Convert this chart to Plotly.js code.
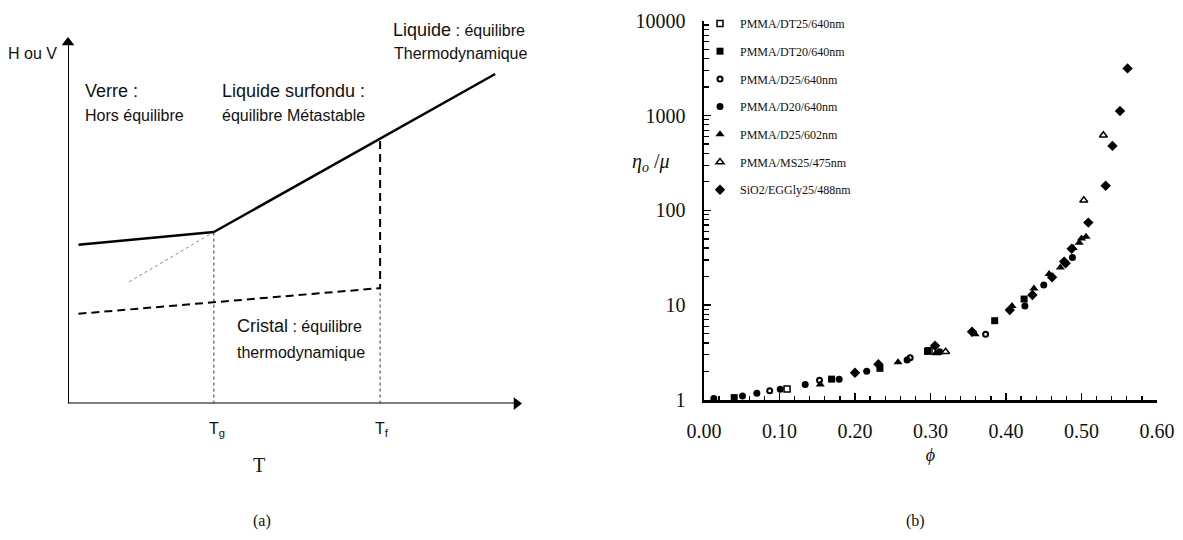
<!DOCTYPE html>
<html>
<head>
<meta charset="utf-8">
<script src="https://cdn.plot.ly/plotly-3.0.1.min.js"></script>
<style>
  html, body { margin: 0; padding: 0; background: #fff; }
  #chart { width: 1183px; height: 540px; }
</style>
</head>
<body>
<div id="chart"></div>
<script>
// ---------- Panel (a): schematic H or V vs T (arbitrary units) ----------
const axisXT = [0, 9.9];          // horizontal T axis
const axisXH = [0, 0];
const axisYT = [0, 0];            // vertical H/V axis
const axisYH = [0, 9.85];
const glassT = [0.23, 3.22];
const glassH = [4.33, 4.68];
const liquidT = [3.22, 9.43];
const liquidH = [4.68, 8.99];
const extrapT = [1.35, 3.22];
const extrapH = [3.32, 4.68];
const crystalT = [0.23, 6.89, 6.89];
const crystalH = [2.45, 3.15, 7.25];
const tgLineT = [3.22, 3.22];
const tgLineH = [0, 4.68];
const tfLineT = [6.89, 6.89];
const tfLineH = [0, 3.15];

// ---------- Panel (b): relative viscosity vs volume fraction ----------
const seriesNames = [
  "PMMA/DT25/640nm", "PMMA/DT20/640nm", "PMMA/D25/640nm", "PMMA/D20/640nm",
  "PMMA/D25/602nm", "PMMA/MS25/475nm", "SiO2/EGGly25/488nm"
];
const dt25Phi = [0.110, 0.298];
const dt25Eta = [1.31, 3.30];
const dt20Phi = [0.040, 0.169, 0.233, 0.296, 0.385, 0.424];
const dt20Eta = [1.06, 1.66, 2.16, 3.26, 6.86, 11.6];
const d25Phi = [0.087, 0.153, 0.273, 0.373];
const d25Eta = [1.25, 1.62, 2.79, 4.93];
const d20Phi = [0.013, 0.051, 0.070, 0.101, 0.134, 0.179, 0.2155, 0.269, 0.312, 0.425, 0.450, 0.488];
const d20Eta = [1.04, 1.10, 1.18, 1.30, 1.46, 1.66, 2.01, 2.64, 3.23, 9.8, 16.3, 31.9];
const d602Phi = [0.154, 0.257, 0.307, 0.359, 0.408, 0.437, 0.457, 0.472, 0.489, 0.497, 0.500, 0.506];
const d602Eta = [1.46, 2.50, 3.11, 4.93, 9.8, 15.0, 21.3, 25.0, 40.0, 45.6, 50.6, 52.8];
const ms25Phi = [0.320, 0.503, 0.529];
const ms25Eta = [3.23, 128, 619];
const sio2Phi = [0.200, 0.231, 0.306, 0.355, 0.405, 0.435, 0.461, 0.477, 0.479, 0.487, 0.509, 0.532, 0.541, 0.551, 0.561];
const sio2Eta = [1.94, 2.38, 3.74, 5.25, 8.91, 12.8, 19.7, 28.8, 27.6, 39.4, 74.3, 182, 478, 1116, 3140];

const yTickVals = [1, 10, 100, 1000, 10000];
const yTickText = ["1", "10", "100", "1000", "10000"];
const xTickVals = [0, 0.1, 0.2, 0.3, 0.4, 0.5, 0.6];
const xTickText = ["0.00", "0.10", "0.20", "0.30", "0.40", "0.50", "0.60"];

// ---------- helpers ----------
const W = 1183, H = 540;
const px = v => v / W;
const py = v => 1 - v / H;

const SANS = "Liberation Sans, Arial, sans-serif";
const SERIF = "Liberation Serif, Times New Roman, serif";

const lineTrace = (x, y, width, color, dash) => ({
  type: "scatter", mode: "lines", x, y, xaxis: "x", yaxis: "y",
  line: { color, width, dash }, showlegend: false, hoverinfo: "skip", cliponaxis: false
});

// arrow-head markers placed at the last point of each axis line
const arrowTrace = (x, y, symbol) => ({
  type: "scatter", mode: "markers", x: [x[x.length - 1]], y: [y[y.length - 1]],
  xaxis: "x", yaxis: "y", showlegend: false, hoverinfo: "skip", cliponaxis: false,
  marker: { symbol, size: 11, color: "#000", line: { width: 0 } }
});

const markerTrace = (i, x, y, symbol, size, lw) => ({
  type: "scatter", mode: "markers", x, y, xaxis: "x2", yaxis: "y2",
  name: seriesNames[i], legendgroup: "g" + i,
  marker: { symbol, size, color: "#000", line: { color: "#000", width: lw } }
});

const traces = [
  lineTrace(axisXT, axisXH, 2, "#000", "solid"),
  lineTrace(axisYT, axisYH, 2, "#000", "solid"),
  arrowTrace(axisXT, axisXH, "triangle-right"),
  arrowTrace(axisYT, axisYH, "triangle-up"),
  lineTrace(tgLineT, tgLineH, 1, "#333", "dot"),
  lineTrace(tfLineT, tfLineH, 1, "#333", "dot"),
  lineTrace(extrapT, extrapH, 1, "#888", "dot"),
  lineTrace(glassT, glassH, 2.5, "#000", "solid"),
  lineTrace(liquidT, liquidH, 2.5, "#000", "solid"),
  lineTrace(crystalT, crystalH, 2, "#000", "8px,5px"),
  markerTrace(0, dt25Phi, dt25Eta, "square-open", 6, 1.5),
  markerTrace(1, dt20Phi, dt20Eta, "square", 7, 0),
  markerTrace(2, d25Phi, d25Eta, "circle-open", 5, 2),
  markerTrace(3, d20Phi, d20Eta, "circle", 7, 0),
  markerTrace(4, d602Phi, d602Eta, "triangle-up", 8, 0),
  markerTrace(5, ms25Phi, ms25Eta, "triangle-up-open", 7, 1.5),
  markerTrace(6, sio2Phi, sio2Eta, "diamond", 8, 0)
];

const txt = (x, y, text, size, family, anchor) => ({
  xref: "paper", yref: "paper", x: px(x), y: py(y), text,
  showarrow: false, xanchor: anchor || "left", yanchor: "middle",
  font: { family: family || SANS, size, color: "#111" }
});

const annotations = [
  txt(32.7, 54, "H ou V", 16, SANS, "center"),
  txt(83, 91, '<span style="font-size:18px">Verre :</span>', 16),
  txt(83, 116, "Hors équilibre", 16),
  txt(220, 91, '<span style="font-size:18px">Liquide surfondu :</span>', 16),
  txt(220, 116, "équilibre Métastable", 16),
  txt(391, 30, '<span style="font-size:18px">Liquide</span> : équilibre', 16),
  txt(392, 54, "Thermodynamique", 16),
  txt(235, 326, '<span style="font-size:18px">Cristal</span> : équilibre', 16),
  txt(235, 352, "thermodynamique", 16),
  txt(207, 429, "T<sub>g</sub>", 16),
  txt(373, 429, "T<sub>f</sub>", 16),
  txt(259, 465, "T", 20, SERIF, "center"),
  txt(262, 521, "(a)", 16, SERIF, "center"),
  // panel (b)
  txt(651, 163, "<i>η<sub>o</sub></i> /<i>μ</i>", 20, SERIF, "center"),
  txt(915, 521, "(b)", 16, SERIF, "center")
];

const layout = {
  width: W, height: H,
  margin: { l: 0, r: 0, t: 0, b: 0 },
  paper_bgcolor: "#fff", plot_bgcolor: "rgba(0,0,0,0)",
  font: { family: SERIF, color: "#000" },
  showlegend: true,
  legend: {
    x: px(700), y: py(9), xanchor: "left", yanchor: "top",
    bgcolor: "rgba(0,0,0,0)", borderwidth: 0,
    font: { family: SERIF, size: 12, color: "#111" },
    tracegroupgap: 8.7, itemwidth: 30
  },
  xaxis: {
    domain: [px(68), px(521)], range: [0, 10], visible: false, fixedrange: true
  },
  yaxis: {
    domain: [py(403.6), py(37)], range: [0, 10], visible: false, fixedrange: true
  },
  xaxis2: {
    anchor: "y2",
    domain: [px(704), px(1157)], range: [0, 0.6],
    showline: true, linecolor: "#000", linewidth: 2.5,
    showgrid: false, zeroline: false,
    tickmode: "array", tickvals: xTickVals, ticktext: xTickText,
    ticks: "inside", ticklen: 7, tickwidth: 1.5, tickcolor: "#000",
    minor: { dtick: 0.02, ticks: "inside", ticklen: 4, tickwidth: 1.2, tickcolor: "#000", showgrid: false },
    tickfont: { family: SERIF, size: 20, color: "#111" },
    ticklabelstandoff: 11,
    title: { text: "<i>ϕ</i>", font: { family: SERIF, size: 18, color: "#111" }, standoff: 8 }
  },
  yaxis2: {
    anchor: "x2",
    type: "log",
    domain: [py(400), py(20.7)], range: [0, 4],
    showline: true, linecolor: "#000", linewidth: 2.5,
    showgrid: false, zeroline: false,
    tickmode: "array", tickvals: yTickVals, ticktext: yTickText,
    ticks: "inside", ticklen: 7, tickwidth: 1.5, tickcolor: "#000",
    minor: { dtick: "D1", ticks: "inside", ticklen: 5, tickwidth: 1.2, tickcolor: "#000", showgrid: false },
    tickfont: { family: SERIF, size: 20, color: "#111" },
    ticklabelstandoff: 12
  },
  annotations
};

Plotly.newPlot("chart", traces, layout, { staticPlot: true, displayModeBar: false });
</script>
</body>
</html>
